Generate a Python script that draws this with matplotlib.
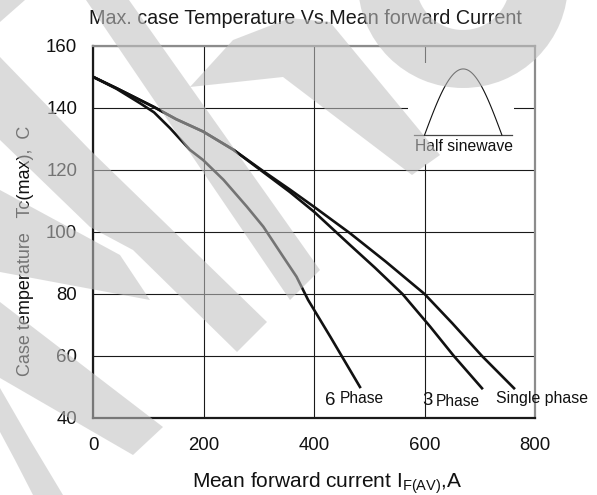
import numpy as np
import matplotlib
matplotlib.use("Agg")
import matplotlib.pyplot as plt
from matplotlib.patches import Polygon, Wedge, Rectangle

plt.rcParams['font.family'] = ['Liberation Sans', 'DejaVu Sans']
plt.rcParams['mathtext.fontset'] = 'custom'
plt.rcParams['mathtext.rm'] = 'Liberation Sans'

# кривые Tc(max) от тока
single_i = [0, 42, 109, 150, 199, 254, 308, 356, 400, 465, 530, 600, 650, 704, 762]
single_t = [150, 146.4, 140.4, 136.4, 132.4, 126.5, 119.6, 113.7, 108.1, 99.6, 90.4, 80, 70.6, 60, 49.6]

three_i = [0, 42, 109, 150, 199, 254, 308, 356, 400, 465, 510, 560, 610, 653, 704]
three_t = [150, 146.4, 140.4, 136.4, 132.4, 126.5, 119.3, 112.9, 106.5, 95.8, 88.5, 80, 69.5, 60, 49.6]

six_i = [0, 42, 85, 110, 139, 175, 199, 236, 278, 308, 344, 368, 389, 430, 483]
six_t = [150, 146.2, 141.5, 138.6, 133.5, 126.5, 123.2, 116.8, 108.2, 101.7, 92, 85.6, 78.1, 66, 50]

x_ticks = [0, 200, 400, 600, 800]
y_ticks = [40, 60, 80, 100, 120, 140, 160]

# подписи кривых: текст, x, y, размер
curve_labels = [
    ('6', 419, 44.2, 13.4),
    ('Phase', 446.8, 44.7, 11.2),
    ('3', 596.5, 44.2, 13.4),
    ('Phase', 619.4, 44.0, 11.2),
    ('Single phase', 729.8, 44.7, 11.4),
]

# врезка "Half sinewave"
inset_box = (570, 121.9, 762, 154.5)
inset_base = (581, 758, 131.3)
inset_hump = (600, 740, 152.6)

W, H = 597, 495
fig = plt.figure(figsize=(W / 100, H / 100), dpi=100)
ax = fig.add_axes([93.3 / W, 1 - 418 / H, (535 - 93.3) / W, (418 - 46) / H])

ax.set_xlim(0, 800)
ax.set_ylim(40, 160)
ax.set_xticks(x_ticks)
ax.set_yticks(y_ticks)
ax.set_axisbelow(True)
ax.grid(True, color='#1a1a1a', lw=0.8)
ax.tick_params(length=0, labelsize=13.4, colors='#111111')
ax.tick_params(axis='x', pad=14)
ax.tick_params(axis='y', pad=11.5)

for s in ['top', 'right']:
    ax.spines[s].set_color('#8c8c8c')
    ax.spines[s].set_linewidth(1.6)
for s in ['left', 'bottom']:
    ax.spines[s].set_color('#1a1a1a')
    ax.spines[s].set_linewidth(1.6)

for xs, ys in [(six_i, six_t), (three_i, three_t), (single_i, single_t)]:
    ax.plot(xs, ys, color='#111111', lw=1.9, zorder=3, solid_joinstyle='round')

for txt, x, y, fs in curve_labels:
    ax.text(x, y, txt, fontsize=fs, ha='left', va='baseline', color='#111111')

# врезка
x0, y0, x1, y1 = inset_box
ax.add_patch(Rectangle((x0, y0), x1 - x0, y1 - y0, facecolor='white', edgecolor='none', zorder=1))
ax.plot([inset_base[0], inset_base[1]], [inset_base[2], inset_base[2]], color='#444444', lw=0.9, zorder=2)
hx = np.linspace(inset_hump[0], inset_hump[1], 100)
hy = inset_base[2] + (inset_hump[2] - inset_base[2]) * np.sin(np.pi * (hx - hx[0]) / (hx[-1] - hx[0]))
ax.plot(hx, hy, color='#111111', lw=0.8, zorder=2)
ax.text((x0 + x1) / 2 + 6, 127.7, 'Half sinewave', fontsize=11.3, ha='center', va='center', color='#111111')

fig.text(305.5 / W, 1 - 24 / H, 'Max. case Temperature Vs.Mean forward Current',
         ha='center', va='baseline', fontsize=14.2, color='#1a1a1a')
fig.text(192 / W, 1 - 487.7 / H, r'Mean forward current I$\mathregular{_{F(AV)}}$,A',
         ha='left', va='baseline', fontsize=15, color='#111111')
fig.text(25 / W, 1 - 251 / H, 'Case temperature   Tc(max),  C', rotation=90,
         ha='center', va='center', fontsize=13, color='#111111')

# водяной знак поверх всего
wm = fig.add_axes([0, 0, 1, 1], zorder=10)
wm.set_xlim(0, W)
wm.set_ylim(H, 0)
wm.axis('off')
wm.patch.set_alpha(0)
wm_color = (0.757, 0.757, 0.757)
shapes = [
    [(0, 0), (25, 0), (0, 22)],
    [(86, 0), (129, 0), (320, 270), (290, 300)],
    [(190, 87), (233, 40), (290, 18), (330, 22), (440, 155), (412, 175), (283, 77)],
    [(0, 57), (90, 150), (267, 322), (237, 352), (133, 250), (90, 227), (0, 140)],
    [(0, 190), (120, 255), (150, 300), (0, 272)],
    [(0, 302), (163, 427), (133, 455), (0, 378)],
    [(0, 388), (30, 440), (63, 495), (33, 495), (15, 460), (0, 432)],
]
for pts in shapes:
    wm.add_patch(Polygon(pts, closed=True, facecolor=wm_color, edgecolor='none', alpha=0.57))
wm.add_patch(Wedge((463, -17), 105, 0, 360, width=58, facecolor=wm_color, edgecolor='none', alpha=0.57))

fig.savefig('out.png', dpi=100)
